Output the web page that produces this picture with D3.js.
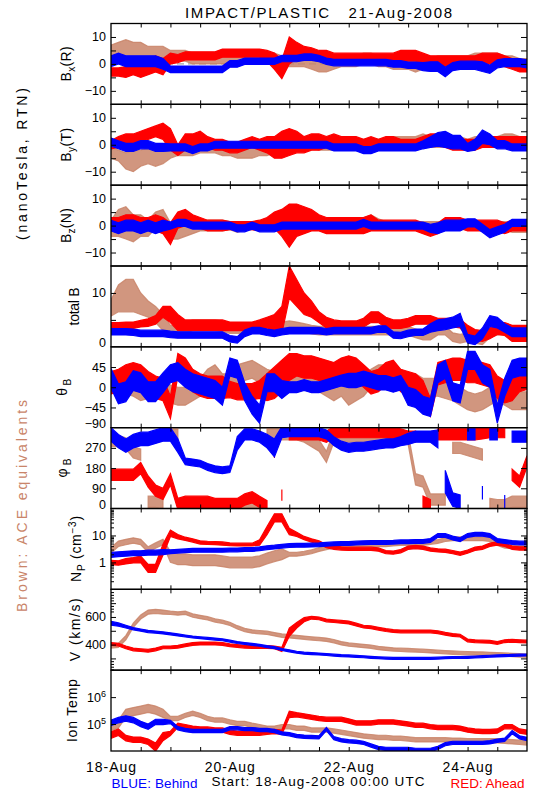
<!DOCTYPE html>
<html><head><meta charset="utf-8">
<script src="https://cdn.jsdelivr.net/npm/d3@7/dist/d3.min.js"></script>
<style>
html,body{margin:0;padding:0;background:#fff;}
svg text{font-family:"Liberation Sans","DejaVu Sans",Arial,sans-serif;fill:#000;}
</style></head><body>
<svg id="chart" width="550" height="800"></svg>
<script>
// ---------- time axis (hours since 18-Aug-2008 00:00 UTC) ----------
const hours = [0,3,6,9,12,15,18,21, 24,27,30,33,36,39,42,45, 48,51,54,57,60,63,66,69, 72,75,78,81,84,87,90,93,
  96,99,102,105,108,111,114,117, 120,123,126,129,132,135,138,141, 144,147,150,153,156,159,162,165, 168];
const xTickHours = [12,24,36,48,60,72,84,96,108,120,132,144,156];
const xLabelHours = [0,48,96,144];
const xLabelText = ["18-Aug","20-Aug","22-Aug","24-Aug"];

// ---------- Bx (nT) : mid value and half-spread ----------
const bxBrown = [4,5,5,5,5,4,4,4, 3,3,3,2,2,2,2,2, 2,3,3,3,2,2,2,1, 1,1,1,0,-1,-1,0,1, 1,1,2,2,1,1,0,0, 0,-1,0,0,1,1,1,1, 1,2,2,2,2,1,1,0, 0];
const bxBrownSd = [3,3,4,3,3,2.5,2.5,2.5, 2,2,2,2,2,2,2,2, 2,2,2,2,2,2,2,2, 2,2,2,2,2,2,2,2, 2,2,2,2,2,2,2,2, 2,2,2,2,2,2,2,2, 2,2,2,2,2,2,2,2, 2];
const bxRed = [-3,-3,-3,-2,-3,-2,0,-1, 2,2,3,3,3,3,3,4, 4,4,4,4,4,3,1,-2, 5,5,4,4,3,3,2,2, 2,2,2,2,2,2,2,3, 3,3,2,1,1,1,1,1, 1,1,2,2,2,1,0,-1, -1];
const bxRedSd = [1.5,1.5,2,2,2,2,3,3, 2,1.5,1.5,1.5,1.5,1.5,1.5,1.5, 1.5,1.5,1.5,1.5,1.5,2,3,3.5, 5,3,2.5,2,2,2,2,2, 2,2,2,2,2,2,2,2, 2,2,2,2,2,2,2,2, 2,2,2,2,2,2,2,2, 2];
const bxBlue = [1,2,1,1,1,1,1,0, -2,-2,-2,-2,-2,-2,-2,-2, 0,0,1,1,1,1,1,2, 2,2,2.5,2.5,2,1,0.5,0.5, 0.5,0.5,0.5,0.5,0.5,0.5,0,0, -0.5,-0.5,-1,-1,-1,-3,-1,-0.5, -0.5,-0.5,-1,-2,0,0.5,0.5,0.5, 0];
const bxBlueSd = [2,2,2,2,2,2,2,2, 1.2,1.2,1.2,1.2,1.2,1.2,1.2,1.2, 1.2,1.2,1.2,1.2,1.2,1.2,1.2,1.2, 1.2,1.2,1.2,1.2,1.2,1.2,1.2,1.2, 1.2,1.2,1.2,1.2,1.2,1.2,1.2,1.2, 1.2,1.2,1.5,1.8,1.8,1.8,1.5,1.5, 1.5,1.5,1.8,1.5,1.5,1.5,1.5,1.5, 1.5];

// ---------- By (nT) ----------
const byBrown = [-3,-4,-6,-6,-5,-4,-5,-4, -3,-2,-2,-2,-1,-1,-1,-2, -2,-3,-3,-3,-2,-2,-1,0, 0,1,1,1,0,0,0,0, 0,0,0,0,0,0,1,1, 1,1,2,1,1,1,1,1, 0,1,1,1,1,2,2,1, 1];
const byBrownSd = [2,2,3,4,3,3,3,3, 2,2,2,2,2,2,2,2, 2,2,2,2,2,2,2,2, 2,2,2,2,2,2,2,2, 2,2,2,2,2,2,2,2, 2,2,2,2,2,2,2,2, 2,2,2,2,2,2,2,2, 2];
const byRed = [0,1,2,2,3,4,5,5, 2,-2,1,1,2,1,0,0, -1,-1,0,1,0,0,-1,0, 1,1,0,1,1,1,1,1, 1,1,0,1,0,1,1,0, 0,0,1,2,2,1,0,0, 0,0,1,1,1,1,1,1, 1];
const byRedSd = [1.5,2,2,2,2,2,2,3, 4,2,3,3,3,2,2,2, 2,2,2,2,2,3,4,5, 5,4,3,3,3,2,3,2, 2,2,2,2,2,2,2,2, 2,2,2,2,2,2,2,2, 2,2,2,2,2,2,2,2, 2];
const byBlue = [1,0,-1,-1,0,0,-1,-1, -1,-1,-1,-2,-1,-1,0,0, 0,0,0,0,0,0,0,0, 0,0,0,0,0,0,-1,-1, -1,-1,-2,-2,-1,-1,-1,-1, -1,-1,0,1,2,2,1,1, -1,0,3,2,0,0,-1,-1, -1];
const byBlueSd = [1.5,1.5,1.5,1.5,1.5,1.5,1.5,1.5, 1.3,1.3,1.3,1.3,1.3,1.3,1.3,1.3, 1.3,1.3,1.3,1.3,1.3,1.3,1.3,1.3, 1.3,1.3,1.3,1.3,1.3,1.3,1.3,1.3, 1.3,1.3,1.3,1.3,1.3,1.3,1.3,1.3, 1.3,1.3,1.5,2,2.5,3,2.5,2.5, 1.5,2,2.5,2,1.5,1.5,1.3,1.3, 1.3];

// ---------- Bz (nT) ----------
const bzBrown = [-1,1,1,-1,0,-1,2,3, -2,-2,-2,-1,0,0,0,0, 0,-1,0,0,0,0,1,1, 1,1,0,0,0,0,0,0, 0,1,1,2,1,0,0,0, 0,0,0,0,0,0,0,0, 0,0,0,0,0,0,-1,-1, -1];
const bzBrownSd = [3,5,6,5,4,3,3,3, 3,3,2,2,2,2,2,2, 1.5,1.5,1.5,1.5,1.5,1.5,1.5,1.5, 1.5,1.5,1.5,1.5,1.5,1.5,1.5,1.5, 1.5,2,2,2,1.5,1.5,1.5,1.5, 1.5,1.5,1.5,1.5,1.5,1.5,1.5,1.5, 1.5,1.5,1.5,1.5,1.5,1.5,1.5,1.5, 1.5];
const bzRed = [1,1,2,2,1,1,1,0, -3,2,3,2,1,0,0,0, 0,0,0,0,0,1,2,1, 0,2,2,2,1,0,0,0, 0,0,0,1,0,0,0,0, 0,0,-1,-2,-1,1,1,1, 0,0,0,0,0,-1,0,0, 0];
const bzRedSd = [2,2,2,2,2,2,3,3, 4,3,3,2,2,2,2,2, 1.5,1.5,1.5,1.5,2,2,3,5, 8,6,5,4,3,3,3,3, 3,3,3,3,2,2,2,2, 2,2,2,2,2,2,2,2, 2,2,2,2,2,2,2,2, 2];
const bzBlue = [0,-1,0,0,-1,0,-1,0, 0,1,1,0,0,0,0,0, 0,-1,-1,0,-1,-1,-1,0, 0,0,0,0,0,0,0,0, 0,0,1,0,0,0,0,0, 0,0,0,-1,-1,0,0,0, 1,1,-1,-3,-2,-1,1,1, 1];
const bzBlueSd = [2,2,2,2,2,2,2,2, 1.3,1.3,1.3,1.3,1.3,1.3,1.3,1.3, 1.3,1.3,1.3,1.3,1.3,1.3,1.3,1.3, 1.3,1.3,1.3,1.3,1.3,1.3,1.3,1.3, 1.3,1.3,1.3,1.3,1.3,1.3,1.3,1.3, 1.3,1.3,1.3,1.5,2,2,2,2, 1.5,1.5,1.5,1.5,1.5,1.5,1.3,1.3, 1.3];

// ---------- total B (nT) ----------
const tbBrown = [7.2,9,9.5,9.5,8,7,6,4.5, 3,2.7,3.5,4,4,4,4,3.8, 3.3,3.3,3.3,3.3,3.3,3.3,3.5,3.8, 4,3.8,3.5,3.2,3,3,3,3, 3,3,3,3,3,3,3,3, 3,2.5,2.1,2.1,3,3,1.8,1.5, 1.8,1.5,1.2,2.5,3,3,2.3,2, 2];
const tbBrownSd = [1.5,2.5,3,3,2,1.5,1.5,1.5, 1,1,1,1,1,1,1,1, 0.8,0.8,0.8,0.8,0.8,0.8,0.8,0.8, 0.8,0.8,0.8,0.8,0.8,0.8,0.8,0.8, 0.8,0.8,0.8,0.8,0.8,0.8,0.8,0.8, 0.8,0.8,0.8,0.8,0.8,0.8,0.8,0.8, 0.8,0.8,0.8,0.8,0.8,0.8,0.8,0.8, 0.8];
const tbRed = [4,4,4,4,4.3,4.5,5,6.5, 6,4.5,4,4,4,4,4,4, 3.8,3.8,3.8,3.8,4,4.5,4.5,5, 12,10,8,7,5.5,4.5,4,4, 4,4,4.5,5.5,5.5,4.5,4.2,4.2, 4.5,5,5,5,4.5,4.5,4.5,4.3, 3,2.2,2,2.5,3.3,3.3,2.5,2.5, 2.5];
const tbRedSd = [0.5,0.5,0.6,0.6,0.6,0.7,0.8,1, 1.5,1.5,1,1,1,1,1,1, 0.8,0.8,0.8,0.8,1,1,1.5,2.5, 3,2.5,2,1.5,1,1,1,0.8, 0.8,0.8,0.8,1,1,1,0.8,0.8, 0.8,0.8,0.8,0.8,0.8,0.8,0.8,0.8, 1,1,1,1,1,1.2,1.5,1.5, 1.5];
const tbBlue = [2.8,2.8,2.8,2.7,2.5,2.5,2.5,2.5, 2.3,2.2,2.2,2.2,2.2,2.2,2.2,2.2, 1.5,1.3,2.5,3,3,2.7,2.5,2.8, 3,3,3,3,3,2.8,3,3, 3,3,3,3,3.3,3.3,2.2,2.1, 2.5,2.7,2.7,3.5,4,4.2,4.5,5, 1.5,1.2,2.5,4.8,4.5,3.5,2.7,2.7, 2.7];
const tbBlueSd = [0.6,0.6,0.6,0.6,0.6,0.6,0.6,0.6, 0.6,0.6,0.6,0.6,0.6,0.6,0.6,0.6, 0.6,0.6,0.6,0.6,0.6,0.6,0.6,0.6, 0.6,0.6,0.6,0.6,0.6,0.6,0.6,0.6, 0.6,0.6,0.6,0.6,0.6,0.6,0.6,0.6, 0.6,0.6,0.6,0.8,1,1,1,1.2, 0.8,0.8,1,1,1,0.8,0.8,0.8, 0.8];

// ---------- theta_B (deg) ----------
const thBrown = [5,10,5,0,-10,-5,0,0, -15,-20,-20,-10,0,20,30,10, 10,30,35,40,30,20,15,20, 20,20,30,35,10,0,-10,0, -20,-10,0,20,30,30,25,20, 10,10,0,0,0,-5,-10,-20, -30,-35,-30,-20,-10,-20,-30,-30, -30];
const thBrownSd = [20,20,20,20,20,20,20,20, 20,20,20,20,20,20,20,20, 20,20,20,20,20,20,20,20, 20,20,20,20,20,20,20,20, 20,20,20,20,20,20,20,20, 20,20,20,20,20,20,20,20, 20,20,20,20,20,20,20,20, 20];
const thRed = [10,15,25,30,25,10,0,-5, -45,50,40,15,5,0,0,0, -5,-10,-10,-10,-5,0,10,25, 45,50,45,45,40,35,30,40, 45,40,25,10,15,30,35,15, 10,5,-10,-45,30,35,40,40, 35,35,30,25,0,-10,-5,15, 20];
const thRedSd = [25,25,25,25,25,25,25,25, 25,25,25,25,25,25,25,25, 18,18,18,18,20,30,35,35, 30,25,25,25,25,25,25,25, 25,25,25,25,25,25,25,25, 25,25,25,20,25,25,25,25, 25,25,25,25,25,25,25,25, 25];
const thBlue = [20,-15,-10,15,10,-10,-10,10, 30,35,20,10,5,0,-5,-20, 45,40,-10,-40,-60,10,10,-5, 0,0,5,0,0,5,10,15, 15,15,20,15,10,10,5,10, -20,-25,-40,-45,30,40,-10,-15, 60,60,30,20,-60,0,40,45, 45];
const thBlueSd = [22,22,22,22,22,22,22,22, 20,20,20,20,20,20,20,20, 20,20,20,20,20,20,20,20, 12,12,12,12,12,12,12,12, 16,16,16,16,16,16,16,16, 20,20,20,20,20,20,20,20, 20,20,20,20,20,20,20,20, 20];

// ---------- phi_B (deg) ----------
const phBrown = [300,300,290,250,240,30,30,20, 330,330,20,15,15,15,15,15, 15,15,15,15,15,330,330,330, 330,330,320,300,280,230,320,320, 320,320,320,320,320,320,300,320, 310,130,120,40,40,40,270,270, 260,250,240,20,15,15,30,30, 30];
const phBrownSd = [25,25,25,25,25,25,25,25, 25,25,25,25,25,25,25,25, 25,25,25,25,25,25,25,25, 25,25,25,25,25,25,25,25, 25,25,25,25,25,25,25,25, 25,25,25,25,25,25,25,25, 25,25,25,25,25,25,25,25, 25];
const phRed = [150,150,150,150,180,120,80,65, 130,20,30,30,30,30,20,20, 20,20,40,50,30,10,250,60, 330,330,330,330,330,320,340,340, 340,340,340,340,340,340,335,330, 320,320,30,15,330,330,330,330, 330,330,335,340,340,340,150,120, 210];
const phRedSd = [25,25,25,25,25,25,25,25, 25,25,25,25,25,25,25,25, 25,25,25,25,25,25,25,25, 25,25,25,25,25,25,25,25, 25,25,25,25,25,25,25,25, 25,25,25,25,25,25,25,25, 25,25,25,25,25,25,25,25, 25];
const phBlue = [330,300,280,300,310,310,320,330, 330,280,210,205,200,185,175,170, 175,290,330,330,320,300,270,340, 340,340,340,340,340,330,300,280, 270,275,275,280,285,290,290,300, 310,320,320,320,310,120,40,30, 330,330,70,330,330,30,320,320, 320];
const phBlueSd = [30,30,30,30,30,30,30,30, 30,30,15,15,15,15,15,15, 15,30,25,25,25,30,40,25, 20,20,20,20,20,20,20,20, 20,20,20,20,20,20,20,20, 25,25,25,25,40,50,30,30, 25,25,30,25,25,30,25,25, 25];

// ---------- Np (cm^-3) : mid value and half-spread in decades ----------
const npBrown = [2.8,4.9,5.7,6.5,5.7,3,4.2,5.7, 1.6,1.3,1.3,1.2,1.2,1.2,1.2,1.1, 1,1,1,1,1.1,1.4,1.7,2, 2,2,2.2,2.5,3,3.5,4,4, 4.2,4.3,4.5,4.5,4.5,4.5,4.8,5, 5,5,5,5.5,6,7,7.5,7.5, 7.5,7.5,7.5,7,5,4,3.8,3.5, 3.5];
const npBrownSd = [0.1,0.1,0.1,0.1,0.1,0.1,0.1,0.1, 0.2,0.2,0.2,0.2,0.2,0.2,0.2,0.2, 0.2,0.2,0.2,0.2,0.2,0.2,0.2,0.2, 0.07,0.07,0.07,0.07,0.07,0.07,0.07,0.07, 0.07,0.07,0.07,0.07,0.07,0.07,0.07,0.07, 0.07,0.07,0.07,0.07,0.07,0.07,0.07,0.07, 0.07,0.07,0.07,0.07,0.07,0.07,0.07,0.07, 0.07];
const npRed = [1,0.95,1.1,1.2,1.3,0.6,0.6,3, 12,9,7.5,6.5,5.5,5.3,5.2,5, 4.7,4.6,4.6,4.6,5.5,15,45,45, 14,11,8,6.5,5.5,4,3.5,3.3, 3.2,3.2,3.2,3.2,3,2.4,2.3,2.6, 3.5,3.7,3.5,3,2.8,2.7,2.4,2.1, 2.5,3.2,3.5,4.5,5,4.5,3.5,3.3, 3.3];
const npRedSd = [0.08,0.08,0.1,0.1,0.12,0.15,0.15,0.2, 0.12,0.08,0.06,0.06,0.06,0.06,0.06,0.06, 0.05,0.05,0.05,0.05,0.1,0.15,0.15,0.15, 0.12,0.08,0.06,0.06,0.06,0.06,0.06,0.06, 0.06,0.06,0.06,0.06,0.06,0.06,0.06,0.06, 0.06,0.06,0.06,0.06,0.06,0.06,0.06,0.06, 0.06,0.06,0.06,0.06,0.06,0.06,0.06,0.06, 0.06];
const npBlue = [1.9,2,2.1,2.2,2.2,2.3,2.3,2.4, 2.5,2.6,2.7,2.8,2.8,2.8,2.8,2.8, 2.9,2.9,3,3,3.2,3.5,3.7,4, 4.2,4.3,4.3,4.4,4.5,4.7,4.9,5, 5,5.2,5.4,5.5,5.5,5.5,5.6,5.8, 5.8,6,6,6.5,10,10,8,7, 10,11,11,10,6.5,6,5.5,5.2, 5.2];
const npBlueSd = [0.09,0.09,0.09,0.09,0.09,0.09,0.09,0.09, 0.07,0.07,0.07,0.07,0.07,0.07,0.07,0.07, 0.07,0.07,0.07,0.07,0.07,0.07,0.07,0.07, 0.07,0.07,0.07,0.07,0.07,0.07,0.07,0.07, 0.07,0.07,0.07,0.07,0.07,0.07,0.07,0.07, 0.07,0.07,0.07,0.07,0.07,0.07,0.07,0.07, 0.07,0.07,0.07,0.07,0.07,0.07,0.07,0.07, 0.07];

// ---------- V (km/s) ----------
const vBrown = [390,395,450,540,600,635,640,635, 630,625,630,610,600,590,575,565, 550,525,505,495,490,485,475,465, 460,455,450,445,440,435,425,410, 400,395,390,385,375,370,365,362, 360,358,355,352,348,345,342,340, 338,336,335,332,330,328,325,322, 320];
const vBrownSd = [15,15,15,15,15,15,15,15, 12,12,12,12,12,12,12,12, 12,12,12,12,12,12,12,12, 12,12,12,12,12,12,12,12, 12,12,12,12,12,12,12,12, 12,12,12,12,12,12,12,12, 12,12,12,12,12,12,12,12, 12];
const vRed = [405,400,380,365,360,355,365,380, 380,385,395,405,408,408,408,405, 395,390,385,383,383,383,380,365, 490,540,580,595,590,575,570,565, 560,545,530,525,515,505,498,495, 495,495,495,495,490,478,470,465, 430,425,422,420,412,425,428,425, 422];
const vRedSd = [10,10,10,10,10,10,10,10, 10,10,10,10,10,10,10,10, 10,10,10,10,10,10,10,15, 30,20,15,10,10,10,10,10, 10,10,10,10,10,10,10,10, 10,10,10,10,10,10,10,10, 10,10,10,10,10,10,10,10, 10];
const vBlue = [555,545,530,515,505,495,490,485, 478,470,462,455,450,445,440,435, 425,415,408,402,395,385,378,365, 355,345,338,335,332,328,324,320, 318,315,312,308,305,302,300,300, 300,300,300,300,302,305,307,307, 308,310,313,316,318,320,322,324, 325];
const vBlueSd = [14,12,10,8,8,8,8,8, 7,7,7,7,7,7,7,7, 7,7,7,7,7,7,7,7, 7,7,7,7,7,7,7,7, 7,7,7,7,7,7,7,7, 7,7,7,7,7,7,7,7, 7,7,7,7,7,7,7,7, 7];

// ---------- Ion temperature (K) : half-spread in decades ----------
const tpBrown = [8e4,1e5,2.5e5,2.9e5,3.3e5,3.8e5,3.3e5,2.5e5, 1.6e5,1.6e5,2.1e5,2.5e5,2.1e5,1.6e5,1.4e5,1.4e5, 1.2e5,1.05e5,1.05e5,9e4,8e4,7e4,7e4,8e4, 8e4,7e4,7e4,6e4,6e4,6e4,5.5e4,5e4, 4.5e4,4e4,3.6e4,3.4e4,3.2e4,3.2e4,3e4,3e4, 2.8e4,2.6e4,2.6e4,2.6e4,2.6e4,2.6e4,2.5e4,2.5e4, 2.4e4,2.4e4,2.4e4,2.4e4,2.4e4,2.3e4,2.2e4,2.1e4, 2e4];
const tpBrownSd = [0.15,0.15,0.15,0.15,0.15,0.15,0.15,0.15, 0.08,0.08,0.08,0.08,0.08,0.08,0.08,0.08, 0.08,0.08,0.08,0.08,0.08,0.08,0.08,0.08, 0.08,0.08,0.08,0.08,0.08,0.08,0.08,0.08, 0.08,0.08,0.08,0.08,0.08,0.08,0.08,0.08, 0.08,0.08,0.08,0.08,0.08,0.08,0.08,0.08, 0.08,0.08,0.08,0.08,0.08,0.08,0.08,0.08, 0.08];
const tpRed = [3.9e4,5e4,3e4,2.6e4,2.6e4,2.2e4,1.4e4,3.4e4, 4.5e4,9e4,8e4,7e4,6.5e4,6.5e4,6e4,6e4, 5e4,4.6e4,4.6e4,4.6e4,4.6e4,5e4,5.3e4,5e4, 2.3e5,2.2e5,2e5,1.8e5,1.6e5,1.5e5,1.5e5,1.5e5, 1.3e5,1.1e5,1.1e5,1.1e5,1.2e5,1.2e5,1.2e5,1.1e5, 1e5,9e4,9e4,8e4,7.5e4,7.5e4,7.5e4,7e4, 6e4,5.5e4,5.3e4,5.3e4,5.5e4,8e4,8e4,5.5e4, 5e4];
const tpRedSd = [0.12,0.12,0.1,0.1,0.1,0.1,0.15,0.15, 0.08,0.08,0.08,0.08,0.08,0.08,0.08,0.08, 0.08,0.08,0.08,0.08,0.08,0.08,0.08,0.08, 0.12,0.08,0.08,0.08,0.08,0.08,0.08,0.08, 0.08,0.08,0.08,0.08,0.08,0.08,0.08,0.08, 0.08,0.08,0.08,0.08,0.08,0.08,0.08,0.08, 0.08,0.08,0.08,0.08,0.08,0.08,0.08,0.08, 0.08];
const tpBlue = [1.1e5,1.4e5,1.6e5,1.4e5,1e5,8e4,1.2e5,1.2e5, 1.2e5,7e4,6e4,5.5e4,5.5e4,5.5e4,5.5e4,5.5e4, 7e4,7e4,6.5e4,6.5e4,6e4,6e4,5.5e4,4.5e4, 4.2e4,3.6e4,3.4e4,3.3e4,3.2e4,6.5e4,3e4,2.5e4, 2.3e4,2.2e4,2e4,1.6e4,1.3e4,1.2e4,1.2e4,1.2e4, 1.2e4,1.1e4,1.1e4,1.1e4,1.3e4,1.8e4,2e4,2e4, 2e4,2e4,2e4,2.1e4,2.4e4,2.6e4,5e4,3.2e4, 2.8e4];
const tpBlueSd = [0.1,0.1,0.1,0.1,0.1,0.1,0.1,0.1, 0.06,0.06,0.06,0.06,0.06,0.06,0.06,0.06, 0.06,0.06,0.06,0.06,0.06,0.06,0.06,0.06, 0.06,0.06,0.06,0.06,0.06,0.06,0.06,0.06, 0.06,0.06,0.06,0.06,0.06,0.06,0.06,0.06, 0.06,0.06,0.06,0.06,0.06,0.06,0.06,0.06, 0.06,0.06,0.06,0.06,0.06,0.06,0.06,0.06, 0.06];

// ---------- y-axis ticks and tick labels ----------
const bTicks = [-10,-5,0,5,10];
const bLabelVals = [-10,0,10];
const bLabelText = [["−10"],["0"],["10"]];
const tbTicks = [5,10];
const tbLabelVals = [0,10];
const tbLabelText = [["0"],["10"]];
const thTicks = [-45,0,45];
const thLabelVals = [-90,-45,0,45];
const thLabelText = [["−90"],["−45"],["0"],["45"]];
const phTicks = [90,180,270];
const phLabelVals = [0,90,180,270];
const phLabelText = [["0"],["90"],["180"],["270"]];
const npTicks = [1,10];
const npMinor = [0.2,0.3,0.4,0.5,0.6,0.7,0.8,0.9,2,3,4,5,6,7,8,9,20,30,40,50,60,70,80,90];
const npLabelVals = [1,10];
const npLabelText = [["1"],["10"]];
const vTicks = [300,400,500,600,700];
const vMinor = [220,240,260,280,640,660,680,720,740,760,780];
const vLabelVals = [400,600];
const vLabelText = [["400"],["600"]];
const tpTicks = [1e5,1e6];
const tpLabelVals = [1e5,1e6];
const tpLabelText = [["10","5"],["10","6"]];

// ---------- layout ----------
const svg = d3.select("#chart");
const L = 111, R = 527, TOP = 23.5, BOT = 751, NP = 9, PH = (BOT - TOP) / NP;
const x = d3.scaleLinear().domain([0, 168]).range([L, R]);
const COL = {brown: "#c98469", red: "#ff0000", blue: "#0000ff"};

const panels = [
  {label: [["B",""],["x","sub"],["(R)",""]], len: 35, lx: 71, log: false, domain: [-15,15], ticks: bTicks, minor: [], lv: bLabelVals, lt: bLabelText, zero: true,
   series: [[bxBrown,bxBrownSd,"brown"],[bxRed,bxRedSd,"red"],[bxBlue,bxBlueSd,"blue"]]},
  {label: [["B",""],["y","sub"],["(T)",""]], len: 34, lx: 71, log: false, domain: [-15,15], ticks: bTicks, minor: [], lv: bLabelVals, lt: bLabelText, zero: true,
   series: [[byBrown,byBrownSd,"brown"],[byRed,byRedSd,"red"],[byBlue,byBlueSd,"blue"]]},
  {label: [["B",""],["z","sub"],["(N)",""]], len: 35, lx: 71, log: false, domain: [-15,15], ticks: bTicks, minor: [], lv: bLabelVals, lt: bLabelText, zero: true,
   series: [[bzBrown,bzBrownSd,"brown"],[bzRed,bzRedSd,"red"],[bzBlue,bzBlueSd,"blue"]]},
  {label: [["total B",""]], len: 38, lx: 79, log: false, domain: [0,15], ticks: tbTicks, minor: [], lv: tbLabelVals, lt: tbLabelText,
   series: [[tbBrown,tbBrownSd,"brown"],[tbRed,tbRedSd,"red"],[tbBlue,tbBlueSd,"blue"]]},
  {label: [["θ",""],["B","sub"]], len: 17, lx: 67, log: false, domain: [-90,90], ticks: thTicks, minor: [], lv: thLabelVals, lt: thLabelText,
   series: [[thBrown,thBrownSd,"brown"],[thRed,thRedSd,"red"],[thBlue,thBlueSd,"blue"]]},
  {label: [["φ",""],["B","sub"]], len: 19, lx: 67, log: false, domain: [0,360], ticks: phTicks, minor: [], lv: phLabelVals, lt: phLabelText, wrap: true,
   series: [[phBrown,phBrownSd,"brown"],[phRed,phRedSd,"red"],[phBlue,phBlueSd,"blue"]]},
  {label: [["N",""],["P","sub"],[" (cm",""],["−3","sup"],[")",""]], len: 66, lx: 81, log: true, domain: [0.1,100], ticks: npTicks, minor: npMinor, lv: npLabelVals, lt: npLabelText,
   series: [[npBrown,npBrownSd,"brown"],[npRed,npRedSd,"red"],[npBlue,npBlueSd,"blue"]]},
  {label: [["V (km/s)",""]], len: 63, lx: 80, log: false, domain: [215,800], ticks: vTicks, minor: vMinor, lv: vLabelVals, lt: vLabelText,
   series: [[vBrown,vBrownSd,"brown"],[vRed,vRedSd,"red"],[vBlue,vBlueSd,"blue"]]},
  {label: [["Ion Temp",""]], len: 63, lx: 77, log: true, domain: [1e4,1e7], ticks: tpTicks, minor: [], lv: tpLabelVals, lt: tpLabelText,
   series: [[tpBrown,tpBrownSd,"brown"],[tpRed,tpRedSd,"red"],[tpBlue,tpBlueSd,"blue"]]}
];

// sanity check of array lengths
panels.forEach(p => p.series.forEach(s => {
  if (s[0].length !== hours.length || s[1].length !== hours.length)
    throw new Error("length mismatch in panel " + p.label.map(d=>d[0]).join("") + " " + s[2] + ": " + s[0].length + "/" + s[1].length);
}));

const defs = svg.append("defs");

panels.forEach((p, i) => {
  const y0 = TOP + i * PH, y1 = y0 + PH;
  const y = (p.log ? d3.scaleLog() : d3.scaleLinear()).domain(p.domain).range([y1, y0]);
  const g = svg.append("g");
  const cid = "clip" + i;
  defs.append("clipPath").attr("id", cid).append("rect")
    .attr("x", L).attr("y", y0).attr("width", R - L).attr("height", PH);
  const dg = g.append("g").attr("clip-path", `url(#${cid})`);

  if (p.zero) {
    dg.append("line").attr("x1", L).attr("x2", R).attr("y1", y(0)).attr("y2", y(0))
      .attr("stroke", "#8c8c8c").attr("stroke-width", 1).attr("stroke-dasharray", "7,4");
  }

  p.series.forEach(([mid, sd, c]) => {
    const pts = hours.map((h, j) => ({
      h, m: mid[j],
      lo: p.log ? mid[j] / Math.pow(10, sd[j]) : mid[j] - sd[j],
      hi: p.log ? mid[j] * Math.pow(10, sd[j]) : mid[j] + sd[j]
    }));
    const runs = [];
    let cur = [pts[0]];
    for (let j = 1; j < pts.length; j++) {
      if (p.wrap && Math.abs(pts[j].m - pts[j - 1].m) > 180) { runs.push(cur); cur = [pts[j]]; }
      else cur.push(pts[j]);
    }
    runs.push(cur);
    const area = d3.area().x(d => x(d.h)).y0(d => y(d.lo)).y1(d => y(d.hi));
    runs.forEach(run => {
      dg.append("path").attr("d", area(run))
        .attr("fill", COL[c]).attr("stroke", COL[c]).attr("stroke-width", 1.2)
        .attr("fill-opacity", c === "brown" ? 0.85 : 1)
        .attr("stroke-opacity", c === "brown" ? 0.85 : 1);
    });
  });

  // frame
  g.append("rect").attr("x", L).attr("y", y0).attr("width", R - L).attr("height", PH)
    .attr("fill", "none").attr("stroke", "#000").attr("stroke-width", 1.3);

  // x ticks (inward) top and bottom
  g.append("g").attr("transform", `translate(0,${y0})`)
    .call(d3.axisTop(x).tickValues(xTickHours).tickSize(-4).tickFormat(""));
  g.append("g").attr("transform", `translate(0,${y1})`)
    .call(d3.axisBottom(x).tickValues(xTickHours).tickSize(-4).tickFormat(""));
  // y ticks (inward) left and right
  g.append("g").attr("transform", `translate(${L},0)`)
    .call(d3.axisLeft(y).tickValues(p.ticks).tickSize(-5).tickFormat(""));
  g.append("g").attr("transform", `translate(${R},0)`)
    .call(d3.axisRight(y).tickValues(p.ticks).tickSize(-6).tickFormat(""));
  if (p.minor.length) {
    g.append("g").attr("transform", `translate(${L},0)`)
      .call(d3.axisLeft(y).tickValues(p.minor).tickSize(-3).tickFormat(""));
    g.append("g").attr("transform", `translate(${R},0)`)
      .call(d3.axisRight(y).tickValues(p.minor).tickSize(-3).tickFormat(""));
  }
  g.selectAll(".domain").remove();
  g.selectAll(".tick line").attr("stroke", "#000").attr("stroke-width", 1);

  // y tick labels
  p.lv.forEach((v, k) => {
    let ty = y(v) + 4.5;
    if (ty > y1) ty = y1;
    const t = g.append("text").attr("x", 106).attr("y", ty)
      .attr("text-anchor", "end").attr("font-size", 12.5);
    t.append("tspan").text(p.lt[k][0]);
    if (p.lt[k][1]) t.append("tspan").attr("dy", -5).attr("font-size", 9).text(p.lt[k][1]);
  });

  // rotated axis title
  const cy = (y0 + y1) / 2;
  const lt = g.append("text").attr("transform", `translate(${p.lx},${cy}) rotate(-90)`)
    .attr("text-anchor", "middle").attr("font-size", 14)
    .attr("textLength", p.len).attr("lengthAdjust", "spacing");
  let shift = 0;
  p.label.forEach(([s, mode]) => {
    const ts = lt.append("tspan").text(s);
    let want = mode === "sub" ? 4 : mode === "sup" ? -5 : 0;
    if (want !== shift) ts.attr("dy", want - shift);
    if (mode) ts.attr("font-size", 10);
    shift = want;
  });
});

// x tick labels under the last panel
xLabelHours.forEach((h, k) => {
  svg.append("text").attr("x", x(h)).attr("y", 772).attr("text-anchor", "middle")
    .attr("font-size", 14).attr("textLength", 50).attr("lengthAdjust", "spacing")
    .text(xLabelText[k]);
});

// title (keep the wide gap)
svg.append("text").attr("x", 185).attr("y", 17.5).attr("font-size", 15)
  .attr("textLength", 267).attr("lengthAdjust", "spacing")
  .attr("xml:space", "preserve").style("white-space", "pre")
  .text("IMPACT/PLASTIC   21-Aug-2008");

// left side notes
svg.append("text").attr("transform", "translate(27,164) rotate(-90)").attr("text-anchor", "middle")
  .attr("font-size", 14).attr("textLength", 152).attr("lengthAdjust", "spacing")
  .text("(nanoTesla, RTN)");
svg.append("text").attr("transform", "translate(27,506) rotate(-90)").attr("text-anchor", "middle")
  .attr("font-size", 14).attr("textLength", 212).attr("lengthAdjust", "spacing")
  .style("fill", COL.brown).text("Brown: ACE equivalents");

// bottom legend
svg.append("text").attr("x", 111.5).attr("y", 788).attr("font-size", 13.5)
  .attr("textLength", 86).attr("lengthAdjust", "spacing")
  .style("fill", COL.blue).text("BLUE: Behind");
svg.append("text").attr("x", 211.5).attr("y", 786).attr("font-size", 13.5)
  .attr("textLength", 213).attr("lengthAdjust", "spacing")
  .text("Start: 18-Aug-2008 00:00 UTC");
svg.append("text").attr("x", 450.5).attr("y", 788).attr("font-size", 13.5)
  .attr("textLength", 74).attr("lengthAdjust", "spacing")
  .style("fill", COL.red).text("RED: Ahead");
</script>
</body></html>
